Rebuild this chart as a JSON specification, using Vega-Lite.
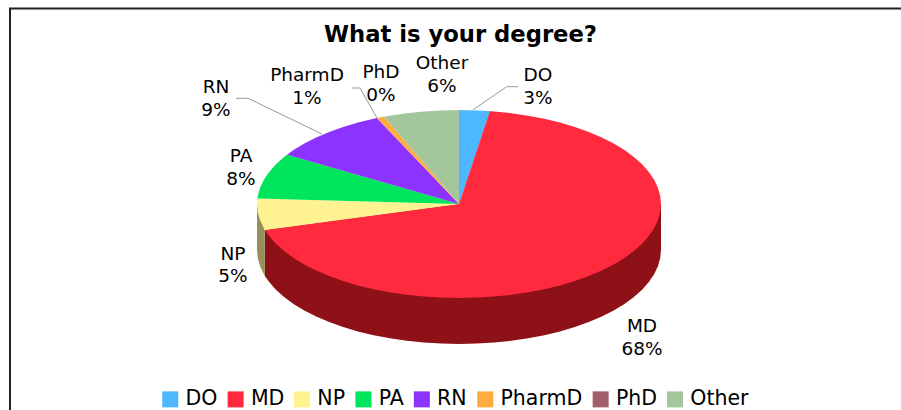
{"$schema":"https://vega.github.io/schema/vega-lite/v6.json","width":901,"height":410,"autosize":"none","padding":0,"background":"white","view":{"stroke":null},
"title":{"text":"What is your degree?","font":"DejaVu Sans","fontWeight":"bold","fontSize":22.7,"color":"#000","anchor":"middle","frame":"group","orient":"top","offset":0,"baseline":"alphabetic","dy":65,"dx":10},
"projection":{"type":"identity","scale":1,"translate":[0,0]},
"datasets":{
"walls":[
{"type":"Feature","properties":{"degree":"MD"},"geometry":{"type":"Polygon","coordinates":[[[661,204],[661,250],[660.2,258.2],[657.9,266.3],[654.1,274.3],[648.8,282.1],[642.1,289.7],[633.9,297],[624.5,303.9],[613.7,310.4],[601.8,316.5],[588.8,322],[574.9,327],[560,331.4],[544.4,335.2],[528.1,338.3],[511.3,340.8],[494.1,342.6],[476.6,343.6],[459,344],[441.4,343.6],[423.9,342.6],[406.7,340.8],[389.9,338.3],[373.6,335.2],[358,331.4],[343.1,327],[329.2,322],[316.2,316.5],[304.3,310.4],[293.5,303.9],[284.1,297],[275.9,289.7],[269.2,282.1],[264.8,275.9],[264.8,229.9],[459,204],[661,204]]]}},
{"type":"Feature","properties":{"degree":"NP"},"geometry":{"type":"Polygon","coordinates":[[[264.8,229.9],[264.8,275.9],[263.9,274.3],[260.1,266.3],[257.8,258.2],[257,250],[257,204],[264.8,229.9]]]}}
],
"slices":[
{"type":"Feature","properties":{"degree":"DO","share":3},"geometry":{"type":"Polygon","coordinates":[[[459,204],[459,110],[476.6,110.4],[489.9,111.1],[459,204]]]}},
{"type":"Feature","properties":{"degree":"MD","share":68},"geometry":{"type":"Polygon","coordinates":[[[459,204],[489.9,111.1],[494.1,111.4],[511.3,113.2],[528.1,115.7],[544.4,118.8],[560,122.6],[574.9,127],[588.8,132],[601.8,137.5],[613.7,143.6],[624.5,150.1],[633.9,157],[642.1,164.3],[648.8,171.9],[654.1,179.7],[657.9,187.7],[660.2,195.8],[661,204],[660.2,212.2],[657.9,220.3],[654.1,228.3],[648.8,236.1],[642.1,243.7],[633.9,251],[624.5,257.9],[613.7,264.4],[601.8,270.5],[588.8,276],[574.9,281],[560,285.4],[544.4,289.2],[528.1,292.3],[511.3,294.8],[494.1,296.6],[476.6,297.6],[459,298],[441.4,297.6],[423.9,296.6],[406.7,294.8],[389.9,292.3],[373.6,289.2],[358,285.4],[343.1,281],[329.2,276],[316.2,270.5],[304.3,264.4],[293.5,257.9],[284.1,251],[275.9,243.7],[269.2,236.1],[264.8,229.9],[459,204]]]}},
{"type":"Feature","properties":{"degree":"NP","share":5},"geometry":{"type":"Polygon","coordinates":[[[459,204],[264.8,229.9],[263.9,228.3],[260.1,220.3],[257.8,212.2],[257,204],[257.4,198.4],[459,204]]]}},
{"type":"Feature","properties":{"degree":"PA","share":8},"geometry":{"type":"Polygon","coordinates":[[[459,204],[257.4,198.4],[257.8,195.8],[260.1,187.7],[263.9,179.7],[269.2,171.9],[275.9,164.3],[284.1,157],[287.1,154.7],[459,204]]]}},
{"type":"Feature","properties":{"degree":"RN","share":9},"geometry":{"type":"Polygon","coordinates":[[[459,204],[287.1,154.7],[293.5,150.1],[304.3,143.6],[316.2,137.5],[329.2,132],[343.1,127],[358,122.6],[373.6,118.8],[376.8,118.1],[459,204]]]}},
{"type":"Feature","properties":{"degree":"PharmD","share":1},"geometry":{"type":"Polygon","coordinates":[[[459,204],[376.8,118.1],[384,116.7],[459,204]]]}},
{"type":"Feature","properties":{"degree":"Other","share":6},"geometry":{"type":"Polygon","coordinates":[[[459,204],[384,116.7],[389.9,115.7],[406.7,113.2],[423.9,111.4],[441.4,110.4],[459,110],[459,204]]]}}
],
"leaders":[
{"type":"Feature","properties":{"degree":"DO"},"geometry":{"type":"LineString","coordinates":[[472.7,110],[506.7,86.7],[518,86.7]]}},
{"type":"Feature","properties":{"degree":"RN"},"geometry":{"type":"LineString","coordinates":[[236,98.3],[248,98.3],[322,134]]}},
{"type":"Feature","properties":{"degree":"PharmD"},"geometry":{"type":"LineString","coordinates":[[352,88],[360,88],[377,118]]}}
],
"frame":[
{"type":"Feature","properties":{"part":"frame"},"geometry":{"type":"LineString","coordinates":[[10,420],[10,8.5],[910,8.5]]}}
],
"labels":[
{"label":"DO\n3%","x":538,"y":75},
{"label":"MD\n68%","x":642,"y":326},
{"label":"NP\n5%","x":233,"y":253.5},
{"label":"PA\n8%","x":241,"y":156},
{"label":"RN\n9%","x":216,"y":87},
{"label":"PharmD\n1%","x":307,"y":75},
{"label":"PhD\n0%","x":381,"y":72},
{"label":"Other\n6%","x":442,"y":63}
]},
"layer":[
{"data":{"name":"frame"},"mark":{"type":"geoshape","filled":false,"stroke":"#222222","strokeWidth":2}},
{"data":{"name":"walls"},"transform":[{"filter":"datum.properties.degree === 'MD'"}],"mark":{"type":"geoshape","fill":"#8e1118","stroke":null}},
{"data":{"name":"walls"},"transform":[{"filter":"datum.properties.degree === 'NP'"}],"mark":{"type":"geoshape","fill":"#96905c","stroke":null}},
{"data":{"name":"slices"},"mark":{"type":"geoshape","stroke":null},"encoding":{"color":{"field":"properties.degree","type":"nominal","scale":{"domain":["DO","MD","NP","PA","RN","PharmD","PhD","Other"],"range":["#4db8ff","#ff2a3e","#fff291","#00e65c","#8c33ff","#ffab40","#a35f6b","#a3c79a"]},"legend":{"title":null,"orient":"none","legendX":160,"legendY":389,"direction":"horizontal","columns":8,"symbolType":"square","symbolSize":256,"symbolStrokeWidth":0,"labelFont":"DejaVu Sans","labelFontSize":20.5,"labelColor":"#000","labelOffset":5,"columnPadding":7.4,"symbolOpacity":1}}}},
{"data":{"name":"leaders"},"mark":{"type":"geoshape","filled":false,"stroke":"#999999","strokeWidth":1}},
{"data":{"name":"labels"},"mark":{"type":"text","font":"DejaVu Sans","fontSize":18.5,"color":"#000","align":"center","baseline":"middle","lineBreak":"\n","lineHeight":22.5},"encoding":{"longitude":{"field":"x","type":"quantitative"},"latitude":{"field":"y","type":"quantitative"},"text":{"field":"label","type":"nominal"}}}
]}
